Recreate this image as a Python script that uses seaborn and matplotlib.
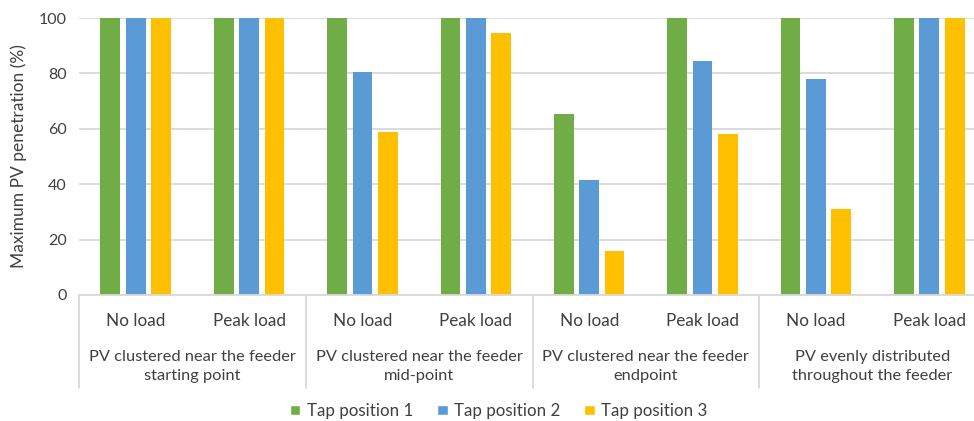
import matplotlib
matplotlib.use("Agg")
import matplotlib.pyplot as plt
from matplotlib.patches import Patch
from matplotlib.lines import Line2D
import seaborn as sns
import pandas as pd

# Scenarios (outer axis level) and loading conditions (inner axis level)
scenarios = [
    "PV clustered near the feeder\nstarting point",
    "PV clustered near the feeder\nmid-point",
    "PV clustered near the feeder\nendpoint",
    "PV evenly distributed\nthroughout the feeder",
]
loads = ["No load", "Peak load"]
series = ["Tap position 1", "Tap position 2", "Tap position 3"]

# Maximum PV penetration (%) per scenario/load, one list per tap position
tap1 = [100, 100, 100, 100, 65.5, 100, 100, 100]
tap2 = [100, 100, 80.5, 100, 41.5, 84.5, 78, 100]
tap3 = [100, 100, 59, 94.5, 16, 58, 31, 100]

colors = ["#70AD47", "#5B9BD5", "#FFC000"]
text_color = "#404040"
grid_color = "#D9D9D9"

sns.set_theme(style="white")
plt.rcParams["font.family"] = ["Lato", "DejaVu Sans"]

keys = [f"{s}|{l}" for s in scenarios for l in loads]
rows = []
for name, vals in zip(series, [tap1, tap2, tap3]):
    for k, v in zip(keys, vals):
        rows.append({"key": k, "series": name, "value": v})
df = pd.DataFrame(rows)

W, H = 974, 421
fig = plt.figure(figsize=(W / 100, H / 100), dpi=100)
x0, x1, y0, y1 = 79, 986, 295, 18
ax = fig.add_axes([x0 / W, 1 - y0 / H, (x1 - x0) / W, (y0 - y1) / H])

sns.barplot(data=df, x="key", y="value", hue="series", order=keys,
            hue_order=series, palette=colors, width=0.67, gap=0.22,
            saturation=1, linewidth=0, legend=False, ax=ax)

ax.set_xlim(-0.5, len(keys) - 0.5)
ax.set_ylim(0, 100)
ax.set_yticks(range(0, 101, 20))
ax.yaxis.grid(True, color=grid_color, linewidth=1.3)
ax.set_axisbelow(True)
for side in ["top", "right", "left"]:
    ax.spines[side].set_visible(False)
ax.spines["bottom"].set_color(grid_color)
ax.spines["bottom"].set_linewidth(1.3)
ax.tick_params(axis="y", length=0, labelsize=11.5, labelcolor=text_color, pad=9)
ax.tick_params(axis="x", length=0, labelsize=12.3, labelcolor=text_color, pad=13)
ax.set_xticks(range(len(keys)))
ax.set_xticklabels([k.split("|")[1] for k in keys])
ax.set_xlabel("")
ax.set_ylabel("Maximum PV penetration (%)", fontsize=12.5, color=text_color, labelpad=8)

# Outer category labels and separators below the axis
trans = ax.get_xaxis_transform()
for i, s in enumerate(scenarios):
    ax.text(2 * i + 0.5, -0.2, s, transform=trans, ha="center", va="top",
            fontsize=11.8, color=text_color, linespacing=1.38)
for b in range(len(scenarios) + 1):
    ax.add_line(Line2D([2 * b - 0.5, 2 * b - 0.5], [0, -(388 - 295) / (y0 - y1)],
                       transform=trans, color=grid_color, linewidth=1.3,
                       clip_on=False))

handles = [Patch(facecolor=c, label=n) for c, n in zip(colors, series)]
fig.legend(handles=handles, loc="center", bbox_to_anchor=(499 / W, 1 - 411 / H),
           ncol=3, frameon=False, fontsize=12.2, handlelength=0.6, handleheight=0.6,
           handletextpad=0.4, columnspacing=1.4, labelcolor=text_color)

fig.savefig("out.png", dpi=100)
